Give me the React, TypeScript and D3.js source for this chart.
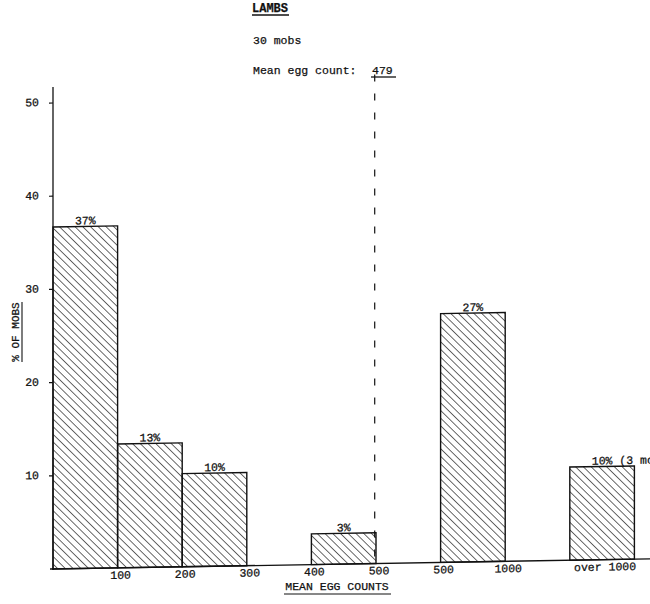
import React from "react";
import * as d3 from "d3";

// ---- data ----
const binNames = ["0-100", "100-200", "200-300", "400-500", "500-1000", "over 1000"];
const binSlots = [0, 1, 2, 4, 6, 8];
const percentValues = [36.7, 13.3, 10, 3.3, 26.7, 10];
const barLabels = ["37%", "13%", "10%", "3%", "27%", "10%"];
const barNotes = ["", "", "", "", "", "(3 mobs)"];
const yTicks = [10, 20, 30, 40, 50];
const xTickLabels = ["100", "200", "300", "400", "500", "500", "1000", "over 1000"];
const xTickSlots = [1, 2, 3, 4, 5, 6, 7, 8.5];
const meanEggCount = 479;
const meanSlot = 4.98;
const mobCount = 30;

const FONT = "'Liberation Mono', 'DejaVu Sans Mono', monospace";
const FS = 11.5;
const CW = FS * 0.6;

export default function App() {
  const W = 650;
  const H = 604;
  const x = d3.scaleLinear().domain([0, 9]).range([53, 634.4]);
  const y = d3.scaleLinear().domain([0, 50]).range([569, 103]);
  const slotW = x(1) - x(0);
  const skew = 0.017;
  const ink = "#111";
  const textProps = { fill: ink, stroke: ink, strokeWidth: 0.25 };

  return (
    <svg
      width={W}
      height={H}
      style={{ position: "absolute", left: 0, top: 0, background: "#fff" }}
      fontFamily={FONT}
      fontSize={FS}
    >
      <defs>
        <pattern
          id="hatch"
          patternUnits="userSpaceOnUse"
          width={5.4}
          height={10}
          patternTransform="rotate(-45)"
        >
          <line x1={0} y1={-2} x2={0} y2={12} stroke={ink} strokeWidth={1.25} />
        </pattern>
      </defs>
      <rect x={0} y={0} width={W} height={H} fill="#fff" />

      {/* titles */}
      <text x={252} y={12} fontWeight="bold" fontSize={12} {...textProps}>LAMBS</text>
      <line x1={252} x2={289} y1={15} y2={15} stroke={ink} strokeWidth={1.3} />
      <text x={253} y={44} {...textProps}>{`${mobCount} mobs`}</text>
      <text x={253} y={74} {...textProps}>Mean egg count:</text>
      <text x={372} y={74} {...textProps}>{meanEggCount}</text>
      <line x1={371} x2={396} y1={77} y2={77} stroke={ink} strokeWidth={1.3} />

      {/* y-axis title */}
      <g transform="translate(19,332) rotate(-90)">
        <text textAnchor="middle" fontSize={11} {...textProps}>% OF MOBS</text>
        <line x1={-30} x2={30} y1={3} y2={3} stroke={ink} strokeWidth={1.1} />
      </g>

      {/* x-axis title */}
      <text x={337} y={590} textAnchor="middle" {...textProps}>MEAN EGG COUNTS</text>
      <line x1={284} x2={391} y1={594} y2={594} stroke={ink} strokeWidth={1.2} />

      <g transform={`matrix(1,${-skew},0,1,0,${skew * 53})`}>
        {/* y axis */}
        <line x1={x(0)} x2={x(0)} y1={87} y2={y(0) + 1} stroke={ink} strokeWidth={1.3} />
        {yTicks.map((t) => (
          <g key={t}>
            <line x1={x(0) - 4} x2={x(0)} y1={y(t)} y2={y(t)} stroke={ink} strokeWidth={1.2} />
            <text x={39} y={y(t) + 3} textAnchor="end" {...textProps}>{t}</text>
          </g>
        ))}

        {/* bars */}
        {percentValues.map((v, i) => {
          const x0 = x(binSlots[i]);
          const cx = x0 + slotW / 2;
          return (
            <g key={binNames[i]}>
              <rect
                x={x0}
                y={y(v)}
                width={slotW}
                height={y(0) - y(v)}
                fill="url(#hatch)"
                stroke={ink}
                strokeWidth={1.4}
              />
              <text x={cx} y={y(v) - 2} textAnchor="middle" {...textProps}>{barLabels[i]}</text>
              {barNotes[i] && (
                <text x={cx + (barLabels[i].length * CW) / 2 + CW} y={y(v) - 2} {...textProps}>
                  {barNotes[i]}
                </text>
              )}
            </g>
          );
        })}

        {/* baseline */}
        <line x1={x(0) - 3} x2={W + 20} y1={y(0)} y2={y(0)} stroke={ink} strokeWidth={1.4} />

        {/* mean line */}
        <line
          x1={x(meanSlot)}
          x2={x(meanSlot)}
          y1={80}
          y2={y(0)}
          stroke={ink}
          strokeWidth={1.2}
          strokeDasharray="7,12"
        />

        {/* x tick labels */}
        {xTickLabels.map((l, i) => (
          <text key={i} x={x(xTickSlots[i]) + 3} y={y(0) + 11} textAnchor="middle" {...textProps}>
            {l}
          </text>
        ))}
      </g>
    </svg>
  );
}
